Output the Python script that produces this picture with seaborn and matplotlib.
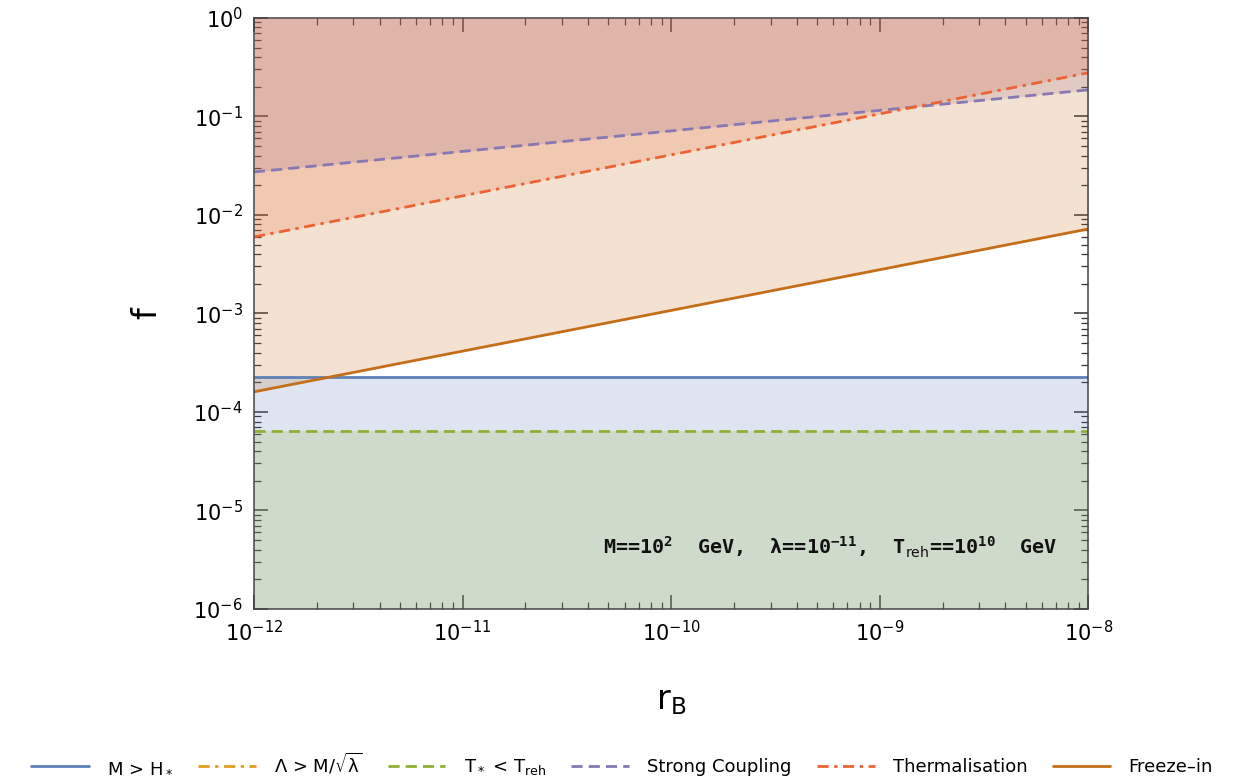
import numpy as np
import matplotlib
matplotlib.use("Agg")
import matplotlib.pyplot as plt
import seaborn as sns
from matplotlib.ticker import LogLocator, LogFormatterMathtext, NullFormatter

# r_B range (power laws -> straight lines on log-log, endpoints are enough)
r_b = [1e-12, 1e-8]

# constraint lines f(r_B)
f_hubble = [2.27e-4, 2.27e-4]        # M > H_*
f_treh = [6.4e-5, 6.4e-5]            # T_* < T_reh
f_strong = [0.0273, 0.186]           # strong coupling
f_therm = [0.00598, 0.277]           # thermalisation
f_freeze = [1.6e-4, 0.0072]          # freeze-in

labels = [r"M > H$_*$", r"Λ > M/$\sqrt{\lambda}$", r"T$_*$ < T$_{\mathrm{reh}}$",
          "Strong Coupling", "Thermalisation", "Freeze–in"]

# Mathematica default palette
c_blue = "#5e81b5"
c_orange = "#e19c24"
c_green = "#8fb032"
c_purple = "#8778b3"
c_red = "#eb6235"
c_brown = "#c56e1a"
c_strong_fill = "#9a6a8a"

sns.set_style("white")
plt.rcParams['font.family'] = ['DejaVu Sans']
plt.rcParams['mathtext.default'] = 'regular'
plt.rcParams['text.color'] = 'black'
plt.rcParams['axes.labelcolor'] = 'black'

fig = plt.figure(figsize=(12.51, 7.84), dpi=100)
ax = fig.add_axes([0.203, 0.2232, 0.667, 0.754])

ymin, ymax = 1e-6, 1.0
a = 0.2

# shaded regions
ax.fill_between(r_b, f_freeze, ymax, color=c_brown, alpha=a, lw=0)
ax.fill_between(r_b, f_therm, ymax, color=c_red, alpha=a, lw=0)
ax.fill_between(r_b, f_strong, ymax, color=c_strong_fill, alpha=a, lw=0)
ax.fill_between(r_b, ymin, f_hubble, color=c_blue, alpha=a, lw=0)
ax.fill_between(r_b, ymin, f_treh, color=c_green, alpha=a, lw=0)

lw = 2.0
sns.lineplot(x=r_b, y=f_hubble, ax=ax, color=c_blue, lw=lw, label=labels[0])
ax.plot([], [], color=c_orange, lw=lw, ls=(0, (4, 2, 1.2, 2)), label=labels[1])
sns.lineplot(x=r_b, y=f_treh, ax=ax, color=c_green, lw=lw, label=labels[2])
ax.lines[-1].set_linestyle((0, (4, 2.2)))
sns.lineplot(x=r_b, y=f_strong, ax=ax, color=c_purple, lw=lw, label=labels[3])
ax.lines[-1].set_linestyle((0, (4, 2.2)))
sns.lineplot(x=r_b, y=f_therm, ax=ax, color=c_red, lw=lw, label=labels[4])
ax.lines[-1].set_linestyle((0, (4, 2, 1.2, 2)))
sns.lineplot(x=r_b, y=f_freeze, ax=ax, color=c_brown, lw=lw, label=labels[5])

ax.set_xscale("log")
ax.set_yscale("log")
ax.set_xlim(1e-12, 1e-8)
ax.set_ylim(ymin, ymax)

ax.xaxis.set_major_locator(LogLocator(base=10, numticks=20))
ax.yaxis.set_major_locator(LogLocator(base=10, numticks=20))
ax.xaxis.set_minor_locator(LogLocator(base=10, subs=np.arange(2, 10), numticks=100))
ax.yaxis.set_minor_locator(LogLocator(base=10, subs=np.arange(2, 10), numticks=100))
ax.xaxis.set_major_formatter(LogFormatterMathtext())
ax.yaxis.set_major_formatter(LogFormatterMathtext())
ax.xaxis.set_minor_formatter(NullFormatter())
ax.yaxis.set_minor_formatter(NullFormatter())

ax.tick_params(which="both", direction="in", top=True, right=True, left=True, bottom=True,
               color="#333333", labelcolor="black", labelsize=15)
ax.tick_params(which="major", length=10, width=1.1, pad=8)
ax.tick_params(which="minor", length=5, width=0.9)
for s in ax.spines.values():
    s.set_color("#444444")
    s.set_linewidth(1.1)

ax.set_xlabel(r"r$_B$", fontsize=24, labelpad=28)
ax.set_ylabel("f", fontsize=24, labelpad=22)

ax.text(0.963, 0.105,
        r"M==10$^2$  GeV,  λ==10$^{-11}$,  T$_{\mathrm{reh}}$==10$^{10}$  GeV",
        transform=ax.transAxes, ha="right", va="center", fontsize=14.5,
        family="DejaVu Sans Mono", fontweight="semibold", color="#111111")

handles, labs = ax.get_legend_handles_labels()
ax.get_legend().remove()
fig.legend(handles, labs, loc="lower center", bbox_to_anchor=(0.497, -0.012), ncol=6,
           frameon=False, fontsize=13, handlelength=3.2, columnspacing=1.4,
           handletextpad=1.0)

fig.savefig("out.png", dpi=100)
